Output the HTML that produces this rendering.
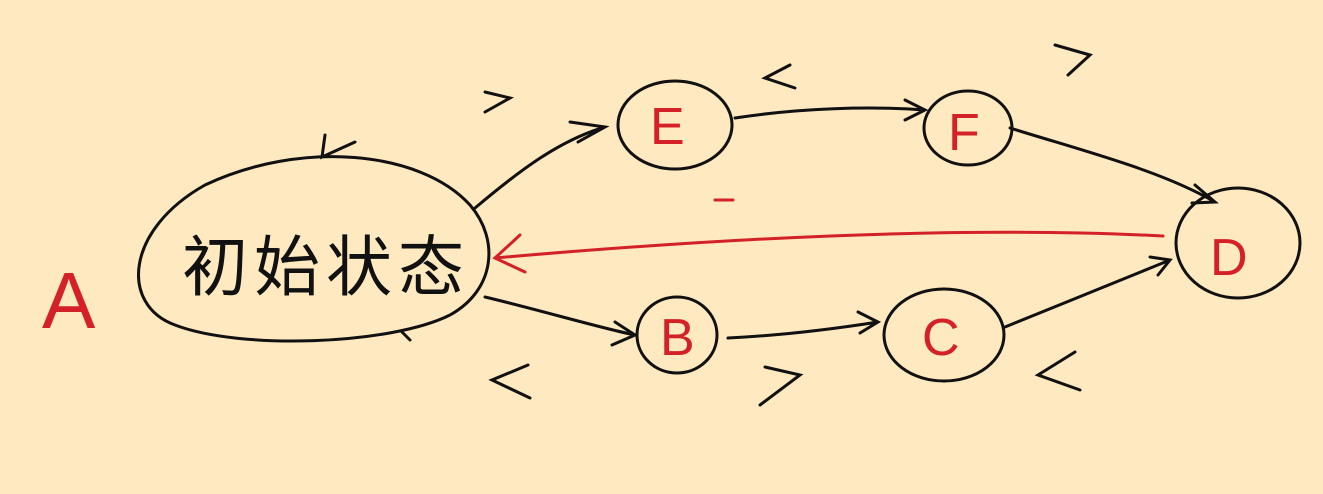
<!DOCTYPE html>
<html><head><meta charset="utf-8"><style>
html,body{margin:0;padding:0;background:#fee9c1;}
svg{display:block}
text{font-family:"Liberation Sans","Noto Sans CJK SC",sans-serif;}
</style></head><body>
<svg width="1323" height="494" viewBox="0 0 1323 494">
<rect width="1323" height="494" fill="#fee9c1"/>
<g fill="none" stroke="#111" stroke-width="3" stroke-linecap="round">
  <path d="M205,185 C300,140 420,150 470,205 C500,240 495,290 450,315 C390,345 240,350 175,325 C120,305 125,230 205,185 Z"/>
  <path d="M325,135 L322,157 L355,142"/>
  <path d="M402,332 L410,340"/>
  <ellipse cx="675" cy="125" rx="57" ry="44"/>
  <ellipse cx="968" cy="128" rx="44" ry="37"/>
  <ellipse cx="1238" cy="243" rx="62" ry="55"/>
  <ellipse cx="677" cy="335" rx="40" ry="38"/>
  <ellipse cx="944" cy="335" rx="60" ry="46"/>
  <path d="M475,208 C520,170 560,140 605,127 M570,122 L605,127 L578,142"/>
  <path d="M735,118 C800,108 870,106 925,110 M905,100 L925,110 L905,120"/>
  <path d="M1010,128 C1080,150 1160,170 1215,202 M1195,185 L1215,202 L1192,203"/>
  <path d="M485,297 C540,310 600,328 635,335 M615,322 L635,335 L612,345"/>
  <path d="M728,338 C790,335 840,328 878,322 M858,312 L878,322 L860,333"/>
  <path d="M1005,327 C1060,305 1120,280 1170,260 M1150,257 L1170,260 L1158,275"/>
  <path d="M485,92 L510,98 L485,112"/>
  <path d="M790,65 L765,78 L795,88"/>
  <path d="M1055,45 L1090,55 L1068,75"/>
  <path d="M528,365 L492,380 L530,398"/>
  <path d="M765,367 L800,375 L760,405"/>
  <path d="M1075,352 L1038,375 L1080,390"/>
</g>
<g fill="none" stroke="#d42127" stroke-width="3" stroke-linecap="round">
  <path d="M1163,236 C950,225 700,240 495,258 M520,235 L495,258 L525,272"/>
  <path d="M715,200 L733,200"/>
</g>
<text x="182" y="290" font-size="66" fill="#111" letter-spacing="6">初始状态</text>
<g fill="#d42127" font-size="52">
  <text x="42" y="328" font-size="80">A</text>
  <text x="650" y="144">E</text>
  <text x="948" y="150">F</text>
  <text x="1210" y="275">D</text>
  <text x="660" y="355">B</text>
  <text x="922" y="355">C</text>
</g>
</svg>
</body></html>
